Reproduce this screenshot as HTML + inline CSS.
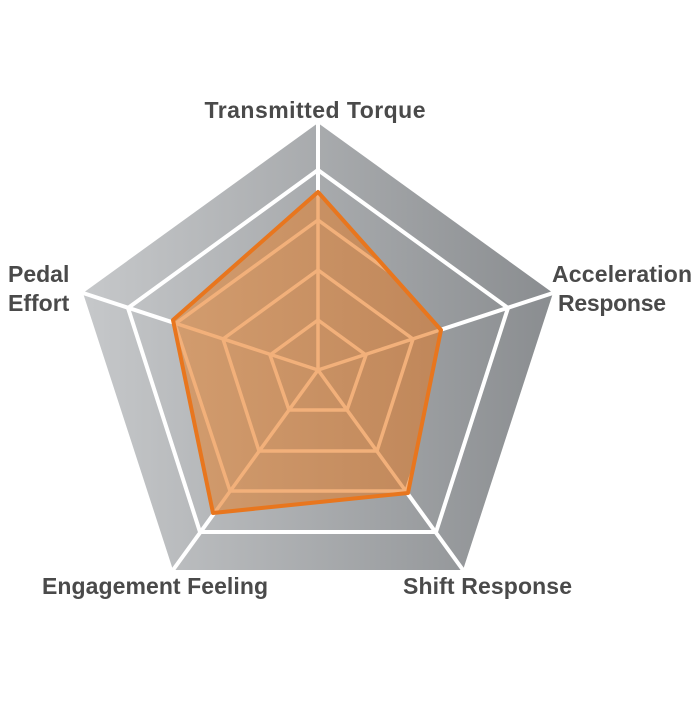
<!DOCTYPE html>
<html><head><meta charset="utf-8"><style>
body{margin:0;background:#fff;width:700px;height:700px;overflow:hidden}
text{font-family:"Liberation Sans",sans-serif;font-weight:bold;fill:#4a4a4a;font-size:23px}
</style></head><body>
<svg width="700" height="700" viewBox="0 0 700 700">
<defs>
<linearGradient id="g" x1="0" y1="0" x2="1" y2="0">
<stop offset="0" stop-color="#c6c8ca"/><stop offset="1" stop-color="#8a8d90"/>
</linearGradient>
<linearGradient id="o" x1="0" y1="0" x2="1" y2="0">
<stop offset="0" stop-color="#d29c6e"/><stop offset="1" stop-color="#c0875a"/>
</linearGradient>
<clipPath id="c"><polygon points="318,192 441,330 408,493 213,513 173,320"/></clipPath>
</defs>
<polygon points="318,123 553,293 463,570 173,570 83,293" fill="url(#g)"/>
<polygon points="318,170 508,308 436,532 200,532 128,308" fill="none" stroke="#fff" stroke-width="4"/>
<g stroke="#fff" stroke-width="4">
<line x1="318" y1="370" x2="318" y2="123"/><line x1="318" y1="370" x2="553" y2="293"/>
<line x1="318" y1="370" x2="463" y2="570"/><line x1="318" y1="370" x2="173" y2="570"/>
<line x1="318" y1="370" x2="83" y2="293"/>
</g>
<polygon points="318,192 441,330 408,493 213,513 173,320" fill="url(#o)"/>
<g clip-path="url(#c)" stroke="#f2b07a" stroke-width="3.5" fill="none">
<polygon points="318,320 366,355 347,410 289,410 270,355"/>
<polygon points="318,270 413,339 377,451 259,451 223,339"/>
<polygon points="318,220 461,324 406,491 230,491 175,324"/>
<line x1="318" y1="370" x2="318" y2="123"/><line x1="318" y1="370" x2="553" y2="293"/>
<line x1="318" y1="370" x2="463" y2="570"/><line x1="318" y1="370" x2="173" y2="570"/>
<line x1="318" y1="370" x2="83" y2="293"/>
</g>
<polygon points="318,192 441,330 408,493 213,513 173,320" fill="none" stroke="#e8761e" stroke-width="4" stroke-linejoin="round"/>
<text x="315" y="118" text-anchor="middle" textLength="221">Transmitted Torque</text>
<text x="552" y="282" textLength="140">Acceleration</text>
<text x="558" y="311" textLength="108">Response</text>
<text x="8" y="282">Pedal</text>
<text x="8" y="311">Effort</text>
<text x="42" y="594" textLength="226">Engagement Feeling</text>
<text x="403" y="594" textLength="169">Shift Response</text>
</svg>
</body></html>
